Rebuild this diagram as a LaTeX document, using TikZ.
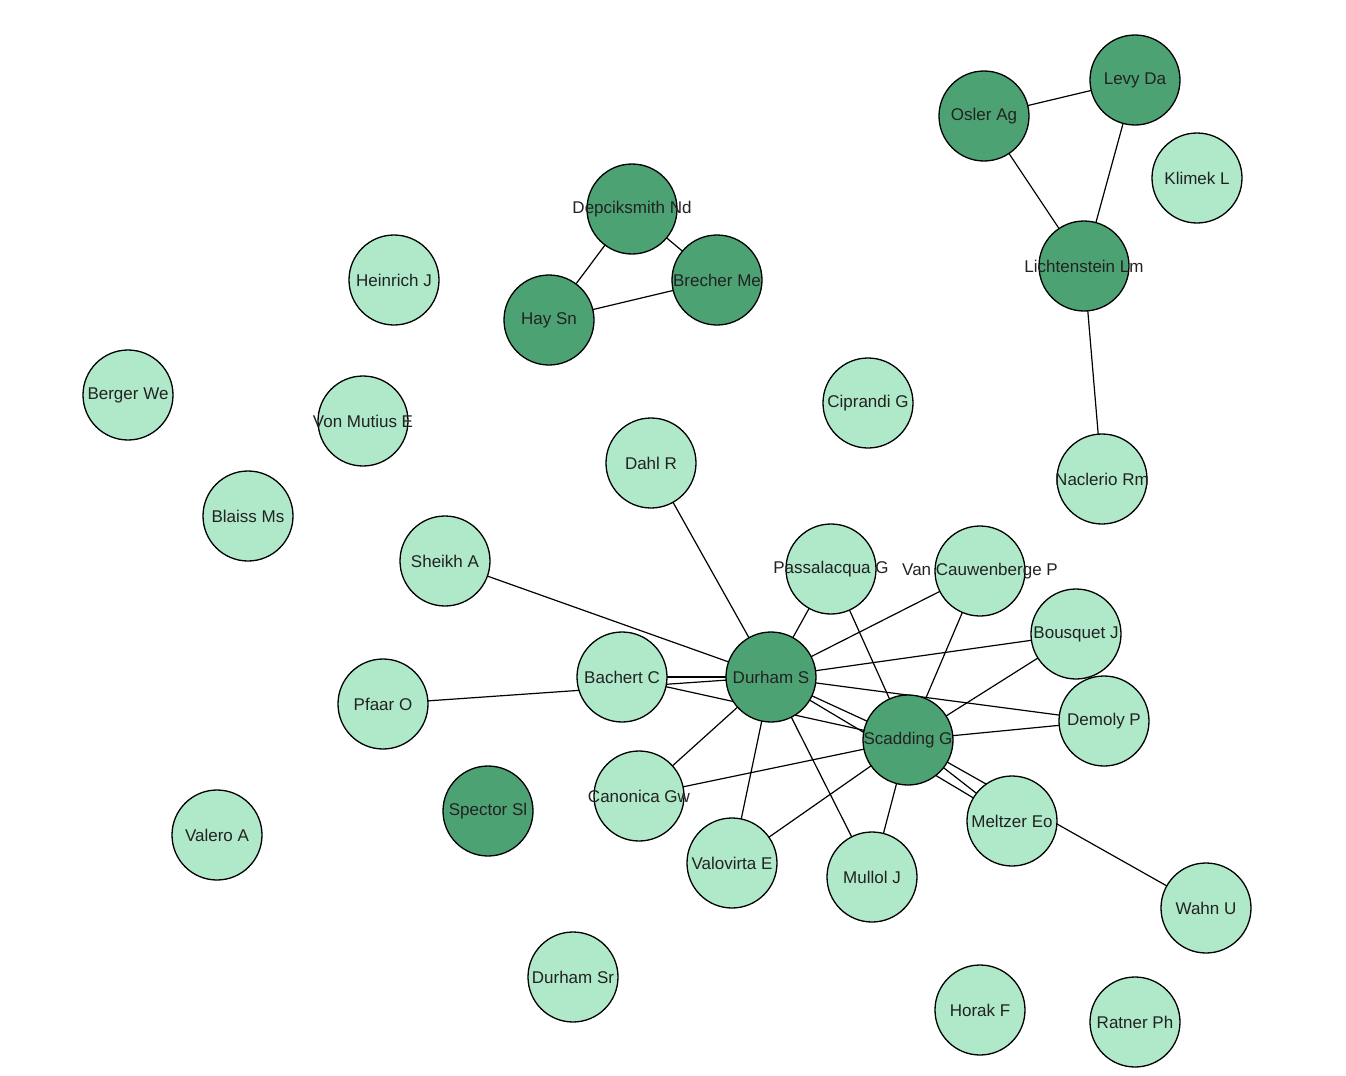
\documentclass[tikz,border=0pt]{standalone}
\usepackage{fontspec}
\setmainfont{Liberation Sans}
\usetikzlibrary{backgrounds}

\definecolor{hubgreen}{HTML}{4DA274}
\definecolor{leafgreen}{HTML}{AFE9CA}
\definecolor{inkgray}{HTML}{222222}

\begin{document}
\begin{tikzpicture}[x=0.5pt,y=-0.5pt,
		leaf/.style={circle,draw=black,line width=0.65pt,fill=leafgreen,minimum size=45pt,inner sep=0pt},
		hub/.style={leaf,fill=hubgreen},
		link/.style={line width=0.6pt},
		every label/.style={font=\fontsize{8.5}{10}\selectfont,text=inkgray,inner sep=0pt}]
				\useasboundingbox (0,0) rectangle (1346,1076);
				
				% Dark authors
				\foreach \id/\x/\y/\txt in {durhamS/771/677/Durham S, scaddingG/908/740/Scadding G,
					oslerAg/984/116/Osler Ag, levyDa/1135/80/Levy Da, lichtensteinLm/1084/266/Lichtenstein Lm,
					depciksmithNd/632/209/Depciksmith Nd, brecherMe/717/280/Brecher Me, haySn/549/320/Hay Sn,
					spectorSl/488/811/Spector Sl} {
					\node[hub, label=center:\txt] (\id) at (\x,\y) {};
				}
				
				% Light authors
				\foreach \id/\x/\y/\txt in {klimekL/1197/178/Klimek L, naclerioRm/1102/479/Naclerio Rm,
					heinrichJ/394/280/Heinrich J, bergerWe/128/395/Berger We, vonMutiusE/363/421/Von Mutius E,
					blaissMs/248/516/Blaiss Ms, ciprandiG/868/403/Ciprandi G, dahlR/651/463/Dahl R,
					sheikhA/445/561/Sheikh A, passalacquaG/831/569/Passalacqua G,
					vanCauwenbergeP/980/571/Van Cauwenberge P, bousquetJ/1076/634/Bousquet J,
					pfaarO/383/704/Pfaar O, bachertC/622/677/Bachert C, demolyP/1104/721/Demoly P,
					canonicaGw/639/796/Canonica Gw, valeroA/217/835/Valero A, valovirtaE/732/863/Valovirta E,
					mullolJ/872/877/Mullol J, meltzerEo/1012/821/Meltzer Eo, wahnU/1206/908/Wahn U,
					durhamSr/573/977/Durham Sr, horakF/980/1010/Horak F, ratnerPh/1135/1022/Ratner Ph} {
					\node[leaf, label=center:\txt] (\id) at (\x,\y) {};
				}
				
				% Links behind the circles
				\begin{scope}[on background layer]
					\foreach \a/\b in {durhamS/bachertC, durhamS/dahlR, durhamS/sheikhA, durhamS/passalacquaG,
						durhamS/vanCauwenbergeP, durhamS/bousquetJ, durhamS/demolyP, durhamS/pfaarO,
						durhamS/canonicaGw, durhamS/valovirtaE, durhamS/mullolJ, durhamS/scaddingG, durhamS/meltzerEo,
						scaddingG/bachertC, scaddingG/passalacquaG, scaddingG/vanCauwenbergeP, scaddingG/bousquetJ,
						scaddingG/demolyP, scaddingG/canonicaGw, scaddingG/valovirtaE, scaddingG/mullolJ,
						scaddingG/meltzerEo, scaddingG/wahnU,
						oslerAg/levyDa, oslerAg/lichtensteinLm, levyDa/lichtensteinLm, lichtensteinLm/naclerioRm,
						depciksmithNd/haySn, depciksmithNd/brecherMe, haySn/brecherMe} {
						\draw[link] (\a.center) -- (\b.center);
					}
				\end{scope}
				
			\end{tikzpicture}
\end{document}
